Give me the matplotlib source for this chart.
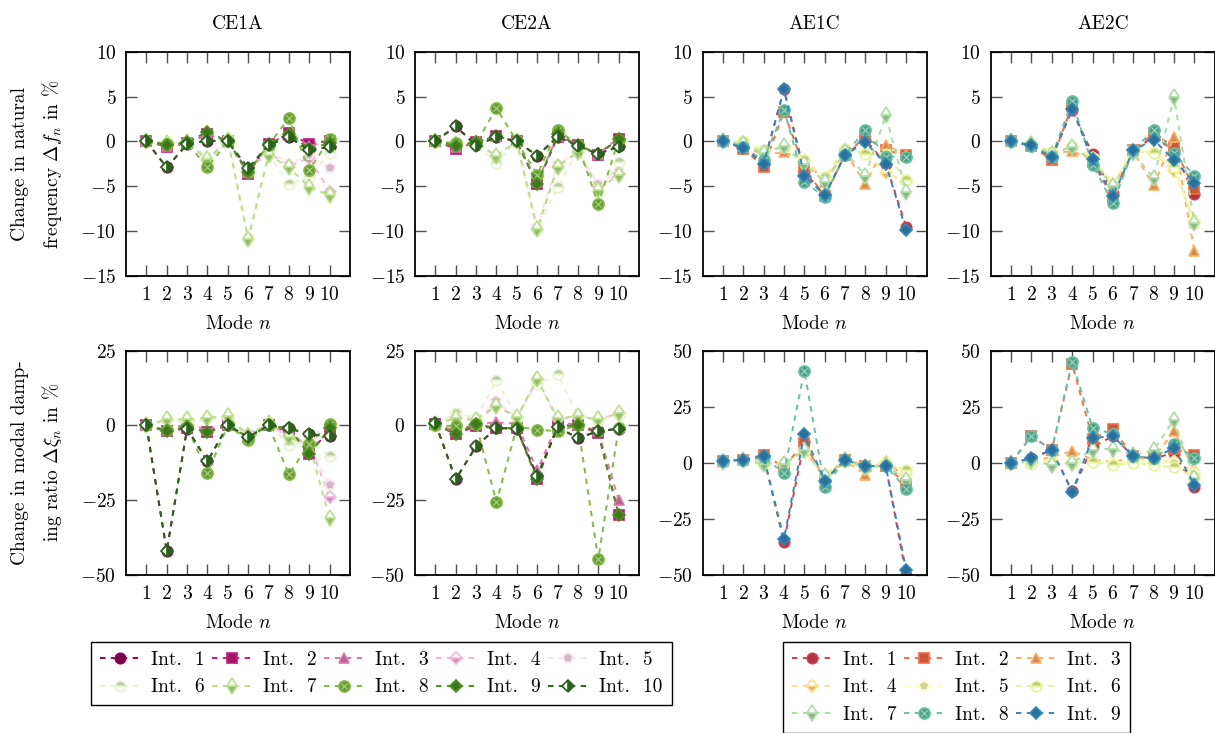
import numpy as np
import matplotlib
matplotlib.use('Agg')
import matplotlib.pyplot as plt
from matplotlib.colors import to_rgb
from matplotlib.legend_handler import HandlerTuple

plt.rcParams['font.family'] = 'serif'
plt.rcParams['font.serif'] = ['cmr10']
plt.rcParams['mathtext.fontset'] = 'cm'
plt.rcParams['axes.formatter.use_mathtext'] = True
plt.rcParams['font.size'] = 14

modes = np.arange(1, 11)
titles = ['CE1A', 'CE2A', 'AE1C', 'AE2C']

# change in natural frequency in %, one row per interval
ce1a_freq = [
    [0, -2.9, -0.3, 0.1, 0, -3.0, -0.4, 0.5, -1.0, -0.6],
    [0, -0.6, -0.2, 0.8, 0, -3.6, -0.3, 0.9, -0.3, 0.1],
    [0, -0.5, -0.2, 0.9, 0, -3.4, -0.3, 0.9, -0.5, 0.0],
    [0, -0.3, -0.2, -2.1, 0, -3.2, -1.2, -2.8, -1.8, -5.6],
    [0, -0.3, -0.1, -1.8, 0, -3.0, -1.0, -2.5, -1.5, -3.0],
    [0, -0.2, -0.1, -2.0, 0.3, -10.8, -1.4, -4.8, -4.0, -1.3],
    [0, -0.2, -0.1, -2.0, 0.2, -10.9, -1.5, -2.9, -5.1, -6.0],
    [0, -0.3, -0.2, -2.9, 0, -3.4, -0.4, 2.6, -3.2, 0.3],
    [0, -0.4, -0.1, 1.1, 0, -3.4, -0.3, 0.8, -0.8, -0.2],
    [0, -2.9, -0.3, 0.1, 0, -3.0, -0.4, 0.5, -1.0, -0.6],
]
ce2a_freq = [
    [0, 1.7, -0.4, 0.5, 0, -1.6, 0.5, -0.4, -1.4, -0.5],
    [0, -0.8, -0.1, 0.6, 0, -4.8, 0.5, -0.4, -1.5, 0.3],
    [0, -0.6, -0.1, 0.6, 0, -4.5, 0.6, -0.4, -1.4, 0.4],
    [0, -0.3, -0.2, -1.6, 0, -9.8, -2.8, -1.2, -5.0, -3.6],
    [0, -0.2, -0.2, -1.5, 0, -9.5, -2.5, -1.1, -4.8, -3.3],
    [0, -0.2, -0.3, -2.4, 0, -9.9, -5.1, -1.0, -5.8, -2.3],
    [0, -0.3, -0.2, -1.6, 0, -9.8, -2.8, -1.2, -5.4, -3.7],
    [0, -0.2, -0.2, 3.7, 0, -3.7, 1.3, -0.4, -7.0, 0.2],
    [0, -0.5, -0.1, 0.6, 0, -4.8, 0.8, -0.4, -1.4, 0.3],
    [0, 1.7, -0.5, 0.5, 0, -1.6, 0.5, -0.5, -1.4, -0.6],
]
ae1c_freq = [
    [0, -0.6, -2.5, 5.8, -3.4, -6.0, -1.5, 0.2, -2.5, -9.5],
    [0, -0.8, -2.8, 3.3, -3.0, -6.1, -1.5, 0.5, -1.0, -1.5],
    [0, -0.5, -1.5, -1.2, -2.0, -4.5, -1.2, -4.7, -0.4, -1.5],
    [0, -0.3, -1.2, -0.6, -2.2, -4.2, -1.0, -1.3, -3.5, -4.5],
    [0, -0.2, -1.0, -0.5, -2.0, -4.0, -0.9, -1.2, -1.5, -4.2],
    [0, 0.0, -1.0, -0.6, -2.1, -4.0, -0.8, -1.35, -1.4, -4.3],
    [0, -0.3, -1.3, -0.5, -2.5, -4.5, -1.2, -3.8, 2.9, -5.6],
    [0, -0.6, -2.1, 3.5, -4.5, -6.2, -1.5, 1.3, -1.7, -1.75],
    [0, -0.7, -2.5, 5.8, -3.8, -6.0, -1.5, -0.1, -2.5, -9.9],
]
ae2c_freq = [
    [0, -0.4, -1.8, 3.5, -1.4, -5.8, -1.0, 0.5, -1.0, -5.9],
    [0, -0.5, -2.1, 4.0, -2.3, -6.3, -1.0, 0.9, -0.6, -5.3],
    [0, -0.3, -1.3, -1.1, -2.0, -5.0, -1.2, -4.9, 0.5, -12.2],
    [0, -0.2, -1.2, -0.6, -1.8, -4.6, -1.0, -1.3, -3.3, -8.8],
    [0, -0.2, -1.1, -0.5, -1.7, -4.5, -0.9, -1.2, -3.0, -8.9],
    [0, -0.2, -1.2, -0.55, -1.9, -4.9, -1.0, -1.25, -2.8, -9.1],
    [0, -0.3, -1.4, -0.6, -2.2, -5.0, -1.3, -4.1, 4.9, -9.1],
    [0, -0.5, -1.7, 4.5, -2.6, -6.9, -1.0, 1.3, -1.3, -3.8],
    [0, -0.45, -1.75, 3.6, -2.0, -6.1, -1.0, 0.2, -2.1, -4.6],
]

# change in modal damping ratio in %
ce1a_damp = [
    [0, -42, -1.1, -12, 0, -3.9, 0, -1.0, -3.0, -3.5],
    [0, -2.0, -1.0, -2.2, 0, -4.0, 0, -2.0, -9.7, -1.2],
    [0, -1.5, 0.5, -1.5, 0.5, -3.0, 0.3, -1.5, -8.0, -2.0],
    [0, 1.5, 1.0, 2.0, 2.5, -3.0, 0.5, -4.0, -6.0, -24.0],
    [0, 1.5, 1.0, 2.0, 2.5, -3.5, 0.5, -5.0, -6.0, -20.0],
    [0, 2.0, 1.5, 2.5, 2.8, -4.5, 0.5, -6.7, -5.0, -10.3],
    [0, 2.0, 2.0, 2.6, 3.0, -3.5, 0.8, -4.0, -6.5, -31.0],
    [0, -1.7, -0.5, -15.9, 0, -5.0, 0, -16.4, -6.1, 0.5],
    [0, -2.0, -0.5, -2.2, 0, -4.0, 0, -1.0, -9.7, -1.0],
    [0, -42, -1.1, -12, 0, -3.9, 0, -1.0, -3.0, -3.7],
]
ce2a_damp = [
    [0.7, -18, -7.0, -0.9, -1.1, -17, -0.7, -4.2, -2.0, -1.1],
    [0.3, -2.9, -0.3, -0.9, -1.0, -18, 0, 0, -2.6, -29.8],
    [0.5, -2.0, 0.5, 1.0, 0.5, -15, 0.5, 0.5, -2.0, -25],
    [0.5, 2.5, 1.5, 6.6, 2.5, 15.4, 2.0, 3.0, 2.0, 4.0],
    [0.5, 3.0, 2.0, 8.0, 2.5, 15.0, 2.5, 3.0, 1.8, 3.5],
    [0.5, 4.0, 2.5, 15.0, 2.6, 13.8, 17.0, 3.3, 1.5, 3.3],
    [0.5, 2.4, 1.9, 6.6, 2.8, 15.4, 2.4, 3.0, 2.0, 4.0],
    [0, -0.3, 0.4, -25.7, -0.5, -1.4, -2.0, 0, -44.7, -1.0],
    [0.3, -2.9, 0.4, -0.9, -1.0, -18, -0.5, 0, -2.3, -29.8],
    [0.7, -18, -7.0, -0.9, -1.1, -17, -0.7, -4.2, -2.0, -1.1],
]
ae1c_damp = [
    [0.7, 1.4, 2.9, -35.2, 9.3, -8.0, 1.4, -1.5, -1.5, -50.0],
    [0.7, 1.4, 3.5, -1.8, 8.8, -7.0, 1.4, -1.5, -1.5, -9.3],
    [0.5, 1.2, 1.0, -1.0, 6.0, -6.0, 1.0, -5.3, 1.0, -7.0],
    [0.5, 1.0, 0.5, -0.5, 5.5, -5.5, 1.0, -3.0, 0.5, -5.0],
    [0.5, 1.0, 0.0, 0.0, 5.0, -5.0, 1.0, -2.5, 0.0, -4.0],
    [0.5, 1.0, -1.1, 0.0, 4.8, -5.5, 1.0, -1.0, 0.0, -3.3],
    [0.5, 1.2, -0.5, -0.5, 5.5, -6.0, 1.2, -2.0, -1.0, -7.8],
    [0.7, 1.4, 2.5, -4.5, 41.0, -10.8, 1.4, -1.5, -1.5, -11.5],
    [0.7, 1.4, 2.9, -34.0, 12.6, -8.0, 1.4, -1.5, -1.5, -47.8],
]
ae2c_damp = [
    [0, 1.9, 5.9, -12.7, 7.0, 11.9, 2.9, 1.9, 4.4, -10.7],
    [0, 12.0, 5.6, 44.0, 10.7, 14.9, 2.9, 2.1, 6.3, 3.6],
    [0, 0.5, 2.6, 5.2, 1.5, 0.5, 2.0, 2.0, 14.1, -3.0],
    [0, 0.3, 1.0, 0.5, 0.5, 0.0, 0.5, 0.5, 1.0, -4.0],
    [0, 0.2, 0.5, 0.3, 0.5, 0.0, 0.3, 0.3, 0.0, -5.0],
    [0, -0.4, 0.0, 0.0, 0.4, -1.1, 0.0, -1.1, -1.9, -6.3],
    [0, 1.0, -1.1, 0.0, 5.9, 6.3, 3.3, 5.6, 19.2, -7.0],
    [0, 11.8, 5.9, 45.0, 15.6, 12.7, 2.9, 2.1, 8.5, 2.1],
    [0, 1.9, 5.6, -13.0, 11.0, 11.9, 2.9, 1.9, 6.7, -9.7],
]

piyg = ['#8e0152', '#c51b7d', '#de77ae', '#f1b6da', '#fde0ef',
        '#e6f5d0', '#b8e186', '#7fbc41', '#4d9221', '#276419']
spectral = ['#d53e4f', '#f46d43', '#fdae61', '#fee08b', '#ffffbf',
            '#e6f598', '#abdda4', '#66c2a5', '#3288bd']

# marker per interval
marks = [
    dict(marker='o', markersize=7.5),
    dict(marker='s', markersize=7),
    dict(marker='^', markersize=7.5),
    dict(marker='D', markersize=6, fillstyle='bottom'),
    dict(marker='p', markersize=7.5),
    dict(marker='o', markersize=7.5, fillstyle='top'),
    dict(marker='d', markersize=8, fillstyle='bottom'),
    dict(marker='o', markersize=8),
    dict(marker='D', markersize=6),
    dict(marker='D', markersize=6, fillstyle='right'),
]


def shade(c, f):
    r = np.array(to_rgb(c))
    return tuple(r * f)


def tint(c, f):
    r = np.array(to_rgb(c))
    return tuple(r + (1 - r) * f)


def draw(ax, data, colors):
    handles = []
    for i, ys in enumerate(data):
        c = colors[i]
        face = c if i == 9 else shade(c, 0.82)
        line, = ax.plot(modes, ys, color=c, lw=1.4, dashes=(2.8, 2.8),
                        markeredgecolor=c, markerfacecolor=face,
                        markerfacecoloralt='white', markeredgewidth=1.2,
                        **marks[i])
        if i == 7:
            cross, = ax.plot(modes, ys, ls='none', marker='x', markersize=4.2,
                             markeredgewidth=0.8, color=tint(c, 0.35))
            handles.append((line, cross))
        else:
            handles.append(line)
    return handles


fig = plt.figure(figsize=(12.15, 7.33), dpi=100)
W, H = 1215, 733
lefts = [126, 415, 702.5, 990.7]
width = 224
rows = [(51.7, 276), (350.5, 575)]

freq = [ce1a_freq, ce2a_freq, ae1c_freq, ae2c_freq]
damp = [ce1a_damp, ce2a_damp, ae1c_damp, ae2c_damp]

legend_handles = {}
for r, (top, bottom) in enumerate(rows):
    for k in range(4):
        ax = fig.add_axes([lefts[k] / W, 1 - bottom / H, width / W, (bottom - top) / H])
        colors = piyg if k < 2 else spectral
        data = freq[k] if r == 0 else damp[k]
        hs = draw(ax, data, colors)
        if r == 0 and k in (0, 2):
            legend_handles[k] = hs
        ax.set_xlim(0, 11)
        ax.set_xticks(modes)
        if r == 0:
            ax.set_ylim(-15, 10)
            ax.set_yticks(np.arange(-15, 11, 5))
            ax.set_title(titles[k], pad=16, fontsize=14)
        elif k < 2:
            ax.set_ylim(-50, 25)
            ax.set_yticks([-50, -25, 0, 25])
        else:
            ax.set_ylim(-50, 50)
            ax.set_yticks([-50, -25, 0, 25, 50])
        ax.set_xlabel('Mode $n$', labelpad=8)
        ax.tick_params(direction='in', length=8, width=1.0, color='#505050',
                       top=True, right=True, pad=7, labelsize=14)
        for s in ax.spines.values():
            s.set_linewidth(1.3)

# two-line y labels
yc_top = 1 - (rows[0][0] + rows[0][1]) / 2 / H
yc_bot = 1 - (rows[1][0] + rows[1][1]) / 2 / H
fig.text(20 / W, yc_top, 'Change in natural', rotation=90, ha='center', va='center')
fig.text(52 / W, yc_top, r'frequency $\Delta f_n$ in %', rotation=90, ha='center', va='center')
fig.text(20 / W, yc_bot, 'Change in modal damp-', rotation=90, ha='center', va='center')
fig.text(52 / W, yc_bot, r'ing ratio $\Delta\xi_n$ in %', rotation=90, ha='center', va='center')

# legends, filled row by row
ce_h = legend_handles[0]
ce_lab = ['Int.  %d' % (i + 1) for i in range(10)]
order_ce = [0, 5, 1, 6, 2, 7, 3, 8, 4, 9]
ae_h = legend_handles[2]
ae_lab = ['Int.  %d' % (i + 1) for i in range(9)]
order_ae = [0, 3, 6, 1, 4, 7, 2, 5, 8]

leg_kw = dict(frameon=True, fancybox=False, edgecolor='black', framealpha=1,
              handlelength=2.05, handletextpad=0.6, columnspacing=0.35,
              borderaxespad=0, borderpad=0.45, labelspacing=0.5, fontsize=14,
              handler_map={tuple: HandlerTuple(ndivide=1)})
leg1 = fig.legend([ce_h[i] for i in order_ce], [ce_lab[i] for i in order_ce],
                  ncol=5, loc='upper left', bbox_to_anchor=(91 / W, 1 - 642 / H), **leg_kw)
leg2 = fig.legend([ae_h[i] for i in order_ae], [ae_lab[i] for i in order_ae],
                  ncol=3, loc='upper left', bbox_to_anchor=(783 / W, 1 - 642 / H), **leg_kw)
for leg in (leg1, leg2):
    leg.get_frame().set_linewidth(1.0)

fig.savefig('out.png', dpi=100)
